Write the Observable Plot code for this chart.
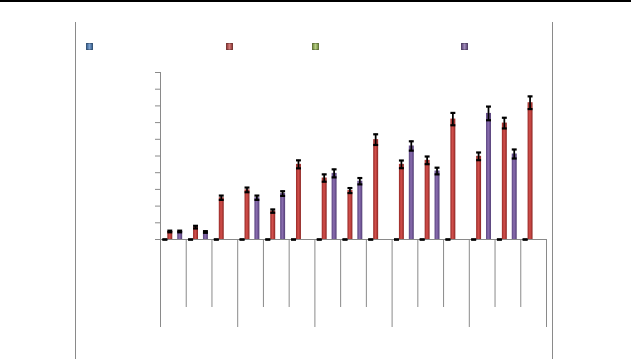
<!DOCTYPE html>
<html>
<head>
<meta charset="utf-8">
<script src="https://cdn.jsdelivr.net/npm/d3@7"></script>
<script src="https://cdn.jsdelivr.net/npm/@observablehq/plot@0.6"></script>
<style>
  html, body { margin: 0; padding: 0; background: #fff; }
  #wrap { position: relative; width: 631px; height: 359px; overflow: hidden; font-family: "Liberation Sans", Arial, sans-serif; }
  #topline { position: absolute; left: 0; top: 0; width: 631px; height: 2px; background: #000; }
  #frame { position: absolute; left: 75px; top: 22px; width: 476px; height: 340px; border-left: 1px solid #8a8a8a; border-right: 1px solid #8a8a8a; }
  .layer { position: absolute; left: 0; top: 0; }
  .sw { position: absolute; width: 5px; height: 5px; border: 0.5px solid rgba(0,0,0,0.25); }
</style>
</head>
<body>
<svg width="0" height="0" style="position:absolute">
  <defs>
    <linearGradient id="gBlue" x1="0" x2="1" y1="0" y2="0">
      <stop offset="0" stop-color="#3a659c"/><stop offset="0.5" stop-color="#6f9bd3"/><stop offset="1" stop-color="#35609a"/>
    </linearGradient>
    <linearGradient id="gRed" x1="0" x2="1" y1="0" y2="0">
      <stop offset="0" stop-color="#962825"/><stop offset="0.45" stop-color="#d2504c"/><stop offset="0.6" stop-color="#c44541"/><stop offset="1" stop-color="#8a2422"/>
    </linearGradient>
    <linearGradient id="gGreen" x1="0" x2="1" y1="0" y2="0">
      <stop offset="0" stop-color="#7a9640"/><stop offset="0.5" stop-color="#b5d073"/><stop offset="1" stop-color="#738f3b"/>
    </linearGradient>
    <linearGradient id="gPurple" x1="0" x2="1" y1="0" y2="0">
      <stop offset="0" stop-color="#58427e"/><stop offset="0.45" stop-color="#8a6fb0"/><stop offset="0.6" stop-color="#7b5fa1"/><stop offset="1" stop-color="#513d74"/>
    </linearGradient>
  </defs>
</svg>
<div id="wrap">
  <div id="topline"></div>
  <div id="frame"></div>
  <div id="legend"></div>
</div>
<script>
// ---- data ----
const categories = ["C1","C2","C3","C4","C5","C6","C7","C8","C9","C10","C11","C12","C13","C14","C15"];
const seriesNames = ["S1","S2","S3","S4"];
const s1Values = [0,0,0,0,0,0,0,0,0,0,0,0,0,0,0];
const s1Errors = [0,0,0,0,0,0,0,0,0,0,0,0,0,0,0];
const s2Values = [4.8, 7.4, 25, 29.7, 17, 45, 36.8, 29.3, 59.8, 45, 47.4, 72.1, 49.8, 69.7, 81.9];
const s2Errors = [0.5, 0.8, 1.3, 1.4, 1.0, 2.4, 2.2, 1.5, 3.2, 2.3, 2.3, 3.7, 2.3, 3.2, 3.8];
const s3Values = [0,0,0,0,0,0,0,0,0,0,0,0,0,0,0];
const s3Errors = [null,null,null,null,null,null,null,null,null,null,null,null,null,null,null];
const s4Values = [4.8, 4.5, null, 25, 27.5, null, 39.6, 34.9, null, 56, 41, null, 75.5, 51.2, null];
const s4Errors = [0.5, 0.5, null, 1.3, 1.4, null, 2.4, 1.9, null, 2.8, 2.0, null, 4.1, 2.7, null];
const yTicks = [0,10,20,30,40,50,60,70,80,90,100];
const groupBoundaries = [0,3,6,9,12,15];
const innerBoundaries = [1,2,4,5,7,8,10,11,13,14];

const seriesFills = ["url(#gBlue)","url(#gRed)","url(#gGreen)","url(#gPurple)"];
const swatchColors = ["#4f81bd","#c0504d","#9bbb59","#8064a2"];
const valuesBySeries = [s1Values, s2Values, s3Values, s4Values];
const errorsBySeries = [s1Errors, s2Errors, s3Errors, s4Errors];

const rows = [];
categories.forEach((c, i) => seriesNames.forEach((s, k) => {
  rows.push({cat: c, series: s, k, value: valuesBySeries[k][i], err: errorsBySeries[k][i]});
}));
const errRows = rows.filter(d => d.value != null && d.err != null);

const W = 631, H = 359;
const M = {left: 160, right: 85, top: 72, bottom: 120};

// skeleton: axes and category boundaries
const skeleton = Plot.plot({
  width: W, height: H,
  marginLeft: M.left, marginRight: M.right, marginTop: M.top, marginBottom: M.bottom,
  style: {color: "#8a8a8a", background: "transparent", overflow: "visible"},
  x: {domain: [0, 15]},
  y: {domain: [0, 100]},
  marks: [
    Plot.axisY({ticks: yTicks, tickSize: 5, tickFormat: () => "", stroke: "#8a8a8a"}),
    Plot.axisX({ticks: innerBoundaries, tickSize: 68, tickFormat: () => "", stroke: "#8a8a8a"}),
    Plot.axisX({ticks: groupBoundaries, tickSize: 88, tickFormat: () => "", stroke: "#8a8a8a"}),
    Plot.ruleX([0], {stroke: "#8a8a8a"}),
    Plot.ruleY([0], {stroke: "#8a8a8a"})
  ]
});
skeleton.classList.add("layer");

// bars and error bars
const barMarks = seriesNames.map((s, k) =>
  Plot.barY(rows.filter(d => d.k === k && d.value != null && d.value > 0),
    {fx: "cat", x: "series", y: "value", fill: seriesFills[k]}));

const bars = Plot.plot({
  width: W, height: H,
  marginLeft: M.left, marginRight: M.right, marginTop: M.top, marginBottom: M.bottom,
  style: {background: "transparent", overflow: "visible"},
  fx: {domain: categories, padding: 0, round: false, axis: null},
  x: {domain: seriesNames, paddingInner: 0, paddingOuter: 0.6, align: 0.4, round: false, axis: null},
  y: {domain: [0, 100], axis: null},
  marks: [
    ...barMarks,
    // error-bar stems: thin bars centred in each series band
    Plot.barY(errRows.filter(d => d.err > 0), {fx: "cat", x: "series", y1: d => d.value - d.err, y2: d => d.value + d.err, fill: "#000", insetLeft: 1.6, insetRight: 1.6}),
    Plot.tickY(errRows, {fx: "cat", x: "series", y: d => d.value + d.err, stroke: "#000", strokeWidth: 2.2}),
    Plot.tickY(errRows, {fx: "cat", x: "series", y: d => Math.max(0, d.value - d.err), stroke: "#000", strokeWidth: 2.2})
  ]
});
bars.classList.add("layer");

const wrap = document.getElementById("wrap");
wrap.appendChild(skeleton);
wrap.appendChild(bars);

// legend swatches
const legendX = [86, 225.5, 311.5, 461];
const legend = document.getElementById("legend");
seriesNames.forEach((s, k) => {
  const d = document.createElement("div");
  d.className = "sw";
  d.style.left = legendX[k] + "px";
  d.style.top = "43px";
  d.style.background = swatchColors[k];
  d.style.backgroundImage = `linear-gradient(90deg, rgba(0,0,0,0.2), rgba(255,255,255,0.25), rgba(0,0,0,0.2))`;
  legend.appendChild(d);
});
</script>
</body>
</html>
